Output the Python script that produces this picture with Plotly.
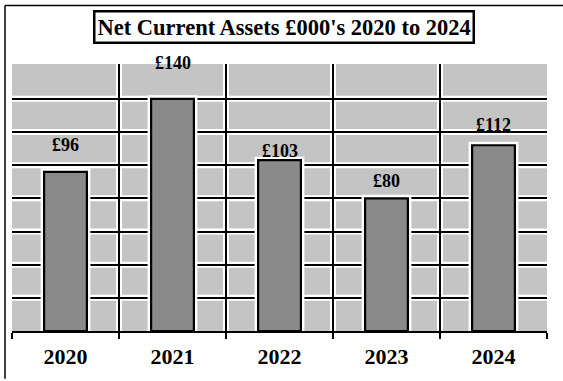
import plotly.graph_objects as go

# Net current assets (£000's) by year
years = ["2020", "2021", "2022", "2023", "2024"]
net_assets = [96, 140, 103, 80, 112]

# vertical offset (px) of each value label above its bar
label_offsets = [27, 36, 9, 17, 20]

W, H = 563, 381
M_L, M_R, M_T, M_B = 12, 16, 64, 48
plot_w = W - M_L - M_R
plot_h = H - M_T - M_B

SERIF = "Liberation Serif, Times New Roman, serif"
BG = "#c4c4c4"
BAR = "#8a8a8a"

fig = go.Figure()

# white halo drawn underneath each bar
fig.add_trace(go.Bar(
    x=years, y=net_assets, width=0.4,
    marker=dict(color="white", line=dict(color="white", width=7)),
    hoverinfo="skip", showlegend=False,
))
fig.add_trace(go.Bar(
    x=years, y=net_assets, width=0.4,
    marker=dict(color=BAR, line=dict(color="black", width=2.2)),
    showlegend=False,
))

# value labels above the bars (x given as category index)
for i, (v, off) in enumerate(zip(net_assets, label_offsets)):
    fig.add_annotation(
        xref="x", yref="y", x=i, y=v, yshift=off, yanchor="middle",
        showarrow=False, text=f"<b>£{v}</b>",
        font=dict(family=SERIF, size=18, color="black"),
    )

# chart title in a framed box
fig.add_annotation(
    xref="paper", yref="paper",
    x=(284 - M_L) / plot_w, y=(H - M_B - 27) / plot_h,
    xanchor="center", yanchor="middle", showarrow=False,
    text="<b>Net Current Assets £000's 2020 to 2024</b>",
    font=dict(family=SERIF, size=22.5, color="black"),
    bgcolor="white", bordercolor="black", borderwidth=2.5, borderpad=2,
)

shapes = []
# white bands around the grid lines (below the grid)
for gy in range(20, 160, 20):
    shapes.append(dict(type="line", xref="paper", yref="y", x0=0, x1=1,
                       y0=gy, y1=gy, line=dict(color="white", width=6),
                       layer="below"))
# category separators: white band plus black line, both behind the bars
for i in range(1, len(years)):
    shapes.append(dict(type="line", xref="x", yref="paper", x0=i - 0.5,
                       x1=i - 0.5, y0=0, y1=1,
                       line=dict(color="white", width=6), layer="below"))
    shapes.append(dict(type="line", xref="x", yref="paper", x0=i - 0.5,
                       x1=i - 0.5, y0=0, y1=1,
                       line=dict(color="black", width=2), layer="between"))

# outer frame (top and left edges)
fx = (5 - M_L) / plot_w
fy = (H - M_B - 5) / plot_h
shapes.append(dict(type="line", xref="paper", yref="paper", x0=fx, x1=(W - M_L) / plot_w,
                   y0=fy, y1=fy, line=dict(color="black", width=1.5)))
shapes.append(dict(type="line", xref="paper", yref="paper", x0=fx, x1=fx,
                   y0=fy, y1=-M_B / plot_h, line=dict(color="black", width=1.5)))

fig.update_layout(
    width=W, height=H,
    margin=dict(l=M_L, r=M_R, t=M_T, b=M_B, pad=0),
    paper_bgcolor="white", plot_bgcolor=BG,
    barmode="overlay", bargap=0.6,
    shapes=shapes,
    xaxis=dict(
        type="category", tickson="boundaries", showgrid=False,
        showline=True, linecolor="black", linewidth=2,
        ticks="outside", ticklen=6, tickwidth=1.5, tickcolor="black",
        ticklabelstandoff=5,
        tickfont=dict(family=SERIF, size=22, color="black", weight="bold"),
        range=[-0.5, 4.5], fixedrange=True,
    ),
    yaxis=dict(
        range=[0, 161], tickvals=list(range(20, 160, 20)),
        showticklabels=False, showgrid=True, gridcolor="black", gridwidth=2,
        zeroline=False, showline=False, ticks="", fixedrange=True,
    ),
)

fig.write_html("out.html")
